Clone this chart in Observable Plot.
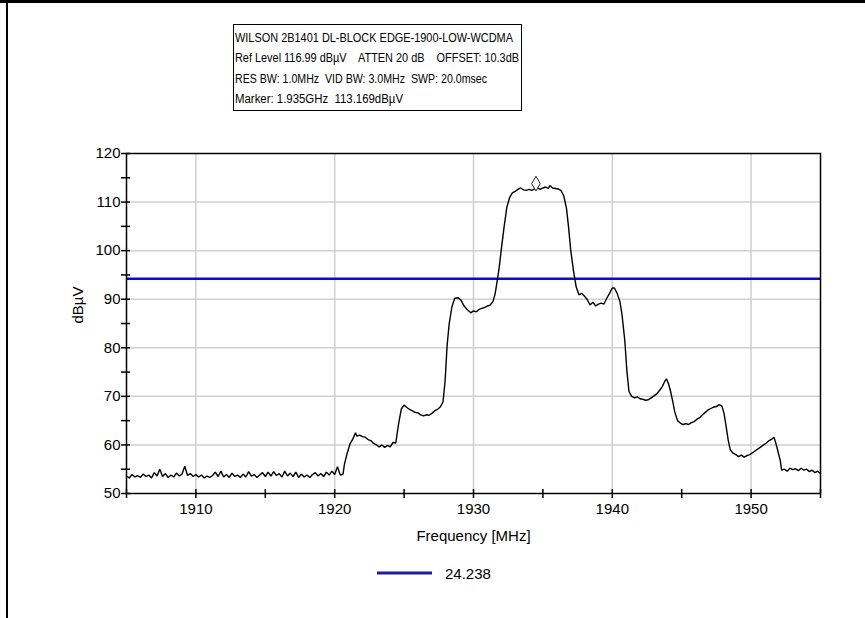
<!DOCTYPE html>
<html>
<head>
<meta charset="utf-8">
<script src="https://cdn.jsdelivr.net/npm/d3@7"></script>
<script src="https://cdn.jsdelivr.net/npm/@observablehq/plot@0.6"></script>
<style>
  html, body { margin: 0; padding: 0; background: #fff; }
  #wrap { position: relative; width: 865px; height: 618px; overflow: hidden; background: #fff;
          font-family: "Liberation Sans", Arial, sans-serif; }
  #chart { position: absolute; left: 0; top: 0; }
  .ov { position: absolute; left: 0; top: 0; pointer-events: none; }
  .bar-top { position: absolute; left: 0; top: 0; width: 865px; height: 3px; background: #000; }
  .bar-left { position: absolute; left: 6px; top: 0; width: 2px; height: 618px; background: #000; }
</style>
</head>
<body>
<div id="wrap">
  <div id="chart"></div>
  <div class="bar-top"></div>
  <div class="bar-left"></div>
</div>
<script>
// ---- Data ----
const infoLines = [
  "WILSON 2B1401 DL-BLOCK EDGE-1900-LOW-WCDMA",
  "Ref Level 116.99 dBµV    ATTEN 20 dB    OFFSET: 10.3dB",
  "RES BW: 1.0MHz  VID BW: 3.0MHz  SWP: 20.0msec",
  "Marker: 1.935GHz  113.169dBµV"
];
const xLabel = "Frequency [MHz]";
const yLabel = "dBµV";
const legendLabel = "24.238";
const thresholdLevel = 94.2;
const markerFreq = [1934.5];
const markerLevel = [113.8];
const xTickValues = [1905, 1910, 1915, 1920, 1925, 1930, 1935, 1940, 1945, 1950, 1955];
const xGridValues = [1910, 1920, 1930, 1940, 1950];
const yTickValues = [50, 55, 60, 65, 70, 75, 80, 85, 90, 95, 100, 105, 110, 115, 120];
const yGridValues = [60, 70, 80, 90, 100, 110];

const freq = [
  1905.0,1905.2,1905.4,1905.6,1905.8,1906.0,1906.2,1906.4,1906.6,1906.8,
  1907.0,1907.2,1907.4,1907.6,1907.8,1908.0,1908.2,1908.4,1908.6,1908.8,
  1909.0,1909.2,1909.4,1909.6,1909.8,1910.0,1910.2,1910.4,1910.6,1910.8,
  1911.0,1911.2,1911.4,1911.6,1911.8,1912.0,1912.2,1912.4,1912.6,1912.8,
  1913.0,1913.2,1913.4,1913.6,1913.8,1914.0,1914.2,1914.4,1914.6,1914.8,
  1915.0,1915.2,1915.4,1915.6,1915.8,1916.0,1916.2,1916.4,1916.6,1916.8,
  1917.0,1917.2,1917.4,1917.6,1917.8,1918.0,1918.2,1918.4,1918.6,1918.8,
  1919.0,1919.2,1919.4,1919.6,1919.8,1920.0,1920.2,1920.4,1920.6,
  1920.7,1920.9,1921.1,1921.3,1921.5,1921.6,1921.8,1922.0,1922.2,1922.4,
  1922.6,1922.8,1923.0,1923.2,1923.4,1923.6,1923.8,1924.0,1924.2,1924.4,
  1924.6,1924.8,1925.0,1925.2,1925.4,1925.6,1925.8,1926.0,1926.2,1926.4,
  1926.6,1926.8,1927.0,1927.2,1927.4,1927.6,1927.8,1927.95,1928.1,1928.25,
  1928.45,1928.65,1928.9,1929.1,1929.3,1929.5,1929.8,1930.0,1930.2,1930.4,
  1930.6,1930.8,1931.0,1931.2,1931.4,1931.55,1931.7,1931.85,1932.0,1932.2,
  1932.4,1932.6,1932.8,1933.0,1933.2,1933.4,1933.6,1933.8,1934.0,1934.2,
  1934.4,1934.6,1934.8,1935.0,1935.2,1935.4,1935.5,1935.7,1935.9,1936.1,
  1936.3,1936.5,1936.7,1936.85,1937.0,1937.2,1937.4,1937.6,1937.8,1938.0,
  1938.2,1938.4,1938.6,1938.8,1939.0,1939.2,1939.4,1939.6,1939.8,1940.0,
  1940.15,1940.35,1940.55,1940.7,1940.9,1941.05,1941.2,1941.4,1941.6,1941.8,
  1942.0,1942.2,1942.4,1942.6,1942.8,1943.0,1943.2,1943.4,1943.6,1943.8,
  1943.9,1944.05,1944.2,1944.35,1944.5,1944.7,1944.9,1945.1,1945.3,1945.5,
  1945.7,1945.9,1946.1,1946.3,1946.5,1946.7,1946.9,1947.1,1947.3,1947.5,
  1947.7,1947.9,1948.05,1948.2,1948.35,1948.5,1948.7,1948.9,1949.1,1949.3,
  1949.5,1949.7,1949.9,1950.1,1950.3,1950.5,1950.7,1950.9,1951.1,1951.3,
  1951.5,1951.65,1951.8,1951.95,1952.1,1952.2,1952.4,1952.6,1952.8,1953.0,
  1953.2,1953.4,1953.6,1953.8,1954.0,1954.2,1954.4,1954.6,1954.8,1955.0
];
const level = [
  53.6,53.2,53.9,53.4,53.7,53.3,54.0,53.5,53.8,53.2,
  54.3,53.6,55.0,53.5,54.1,53.3,53.8,53.4,54.2,53.6,
  54.0,55.6,53.7,54.1,53.5,53.9,53.4,53.8,53.2,53.6,
  53.3,53.7,54.4,53.5,54.6,53.4,53.9,53.3,54.2,53.5,
  53.8,53.3,54.0,53.4,54.5,53.6,53.9,53.3,53.8,54.3,
  53.5,54.4,53.6,54.5,53.7,54.1,53.4,54.6,53.6,54.2,
  53.5,54.4,53.3,54.0,53.4,53.8,53.3,53.9,54.3,53.6,
  54.1,53.5,54.4,53.8,54.6,53.9,55.5,53.8,54.0,
  56.0,58.3,60.2,61.2,62.5,61.8,62.0,61.7,61.6,61.1,
  60.9,60.3,60.0,59.6,60.0,59.5,59.9,59.6,60.5,60.4,
  64.3,67.4,68.2,67.7,67.3,67.0,66.7,66.6,66.2,66.0,
  66.2,66.1,66.5,67.0,67.3,67.8,68.8,73.0,80.5,85.0,
  88.5,90.2,90.3,89.8,88.7,88.0,87.2,87.6,87.4,87.9,
  88.1,88.3,88.6,88.8,89.5,91.0,93.6,96.5,100.2,104.8,
  108.9,110.9,111.9,112.2,112.6,112.9,112.5,112.4,112.6,112.4,
  112.7,112.9,112.6,112.9,113.1,112.8,113.4,112.9,112.8,112.7,
  112.4,111.3,108.7,104.8,100.2,95.9,92.5,90.9,91.2,90.6,
  89.9,88.8,89.4,88.6,89.0,89.2,89.0,90.2,91.2,92.3,
  92.3,91.2,89.5,86.8,81.5,75.3,71.0,70.0,69.7,69.9,
  69.5,69.4,69.2,69.3,69.7,70.1,70.5,71.2,72.0,73.2,
  73.6,72.6,71.0,69.0,66.8,65.0,64.5,64.2,64.4,64.2,
  64.6,64.8,65.3,65.6,66.2,66.7,67.2,67.5,67.8,67.9,
  68.3,68.0,66.5,63.8,61.0,59.0,58.3,58.0,57.6,57.9,
  57.5,57.8,58.0,58.4,58.8,59.2,59.6,60.0,60.4,60.9,
  61.2,61.6,60.2,58.5,56.8,54.8,55.0,54.6,55.2,54.9,
  55.1,54.7,55.2,54.8,55.0,54.5,54.8,54.3,54.6,54.1
];

// ---- Build ----
const trace = freq.map((f, i) => ({f, v: level[i]}));
const marker = markerFreq.map((f, i) => ({f, v: markerLevel[i]}));
const FONT = '"Liberation Sans", Arial, sans-serif';
const traceColor = "#000000";
const thresholdColor = "#0a0ad2";
const legendColor = "#1c1c9c";
const gridColor = "#cfcfcf";

const chart = Plot.plot({
  width: 865,
  height: 618,
  marginTop: 153,
  marginBottom: 125,
  marginLeft: 126,
  marginRight: 45,
  style: {fontFamily: FONT, fontSize: "15px", color: "#000", background: "transparent", overflow: "visible"},
  x: {domain: [1905, 1955]},
  y: {domain: [50, 120]},
  marks: [
    Plot.gridX(xGridValues, {stroke: gridColor, strokeOpacity: 1, strokeWidth: 1.5}),
    Plot.gridY(yGridValues, {stroke: gridColor, strokeOpacity: 1, strokeWidth: 1.5}),
    Plot.ruleY([thresholdLevel], {stroke: thresholdColor, strokeWidth: 2.6}),
    Plot.line(trace, {x: "f", y: "v", stroke: traceColor, strokeWidth: 1.4, strokeLinejoin: "miter", curve: "linear"}),
    Plot.dot(marker, {x: "f", y: "v", symbol: "diamond", r: 4.5, fill: "white", stroke: "#222", strokeWidth: 1}),
    Plot.frame({stroke: "#000", strokeWidth: 1.5}),
    // outer ticks + labels
    Plot.axisX({ticks: xTickValues, tickSize: 5, tickPadding: 5, strokeWidth: 1.5,
      tickFormat: d => d % 10 === 0 ? String(d) : "", label: null}),
    Plot.axisY({ticks: yTickValues, tickSize: 5, tickPadding: 1, strokeWidth: 1.5,
      tickFormat: d => d % 10 === 0 ? String(d) : "", label: null}),
    // inner tick stubs
    Plot.ruleX(xTickValues, {stroke: "#000", strokeWidth: 1.5, insetTop: 336}),
    Plot.ruleY(yTickValues, {stroke: "#000", strokeWidth: 1.5, insetRight: 690}),
    // axis titles
    Plot.text([xLabel], {frameAnchor: "bottom", dy: 47, fontSize: 15, fill: "#000"}),
    Plot.text([yLabel], {frameAnchor: "left", dx: -48, rotate: -90, fontSize: 15, fill: "#000"})
  ]
});
document.getElementById("chart").appendChild(chart);

// ---- Overlays: info box (above plot) and legend (below plot) ----
const wrap = d3.select("#wrap");
const ov = wrap.append("svg").attr("class", "ov").attr("width", 865).attr("height", 618);

const box = {x: 233.5, y: 24.5, w: 288, h: 86};
ov.append("rect").attr("x", box.x).attr("y", box.y).attr("width", box.w).attr("height", box.h)
  .attr("fill", "white").attr("stroke", "#000").attr("stroke-width", 1);
const lineLens = [278, 284, 252, 168];
const baselines = [41.5, 62, 82.5, 103];
infoLines.forEach((t, i) => {
  ov.append("text")
    .attr("x", 235).attr("y", baselines[i])
    .attr("font-family", FONT).attr("font-size", 12.3)
    .attr("textLength", lineLens[i]).attr("lengthAdjust", "spacingAndGlyphs")
    .style("white-space", "pre")
    .attr("fill", "#000")
    .text(t);
});

// legend
const lg = ov.append("g");
lg.append("line").attr("x1", 377).attr("x2", 432).attr("y1", 573).attr("y2", 573)
  .attr("stroke", legendColor).attr("stroke-width", 3);
lg.append("text").attr("x", 445).attr("y", 578.5)
  .attr("font-family", FONT).attr("font-size", 15).attr("fill", "#000")
  .text(legendLabel);
</script>
</body>
</html>
